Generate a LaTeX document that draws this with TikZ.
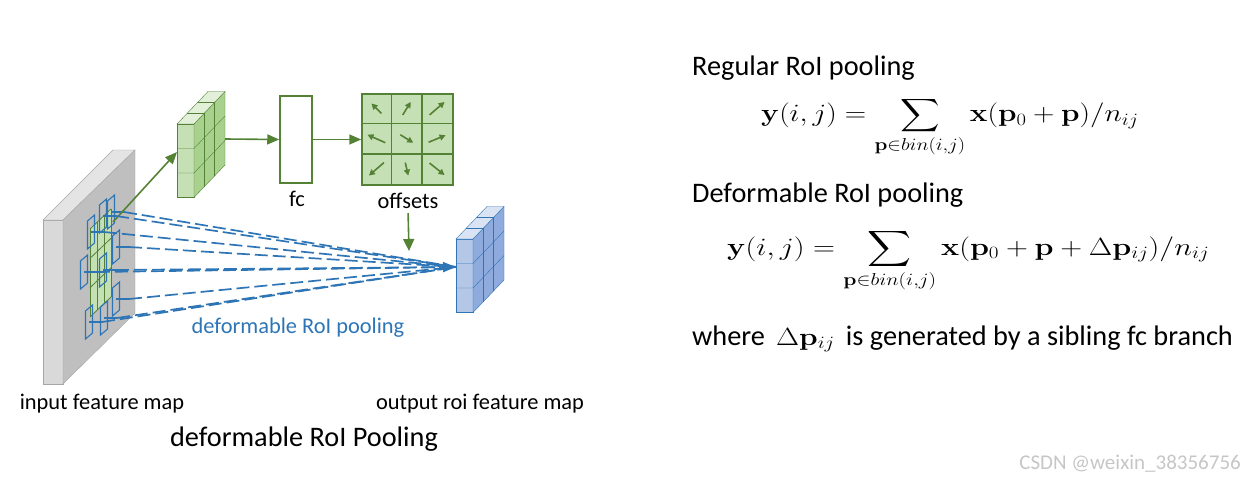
\documentclass[tikz,border=0pt]{standalone}
\usepackage[no-math]{fontspec}
\setmainfont{Carlito}
\usepackage{amsmath,amssymb}
\usepackage{graphicx}
\usetikzlibrary{arrows.meta,calc}
\definecolor{gline}{HTML}{548235}
\definecolor{gfront}{HTML}{C5E0B4}
\definecolor{gside}{HTML}{A9D18E}
\definecolor{gtop}{HTML}{E2F0D9}
\definecolor{bline}{HTML}{2E75B6}
\definecolor{bfront}{HTML}{B4C7E7}
\definecolor{bside}{HTML}{8FAADC}
\definecolor{btop}{HTML}{DAE3F3}
\definecolor{slabfront}{HTML}{BFBFBF}
\definecolor{slabside}{HTML}{D9D9D9}
\definecolor{slabtop}{HTML}{E4E4E4}
\definecolor{slabedge}{HTML}{A6A6A6}

% 1 x 3 x 3 feature cube: #1,#2 front top-left, #3 colour prefix, #4 name
\newcommand{\featcube}[4]{%
  \begin{scope}[shift={(#1,#2)}]
    \filldraw[draw=#3line, fill=#3front] (0,0) rectangle (17,73.5);
    \filldraw[draw=#3line, fill=#3side] (17,0) -- (48,-32.5) -- (48,41) -- (17,73.5) -- cycle;
    \filldraw[draw=#3line, fill=#3top] (0,0) -- (31,-32.5) -- (48,-32.5) -- (17,0) -- cycle;
    \foreach \r in {1,2} \draw[#3line] (0,\r*24.5) -- (17,\r*24.5) -- ++(31,-32.5);
    \foreach \k in {1,2} {
      \draw[#3line] (17+\k*10.33,-\k*10.83) -- ++(0,73.5);
      \draw[#3line] (\k*10.33,-\k*10.83) -- ++(17,0);
    }
    \coordinate (#4-w) at (0,28);
    \coordinate (#4-e) at (48,15);
  \end{scope}}

% one deformed bin on the input map: centre #1,#2, sample point #3
\newcommand{\roibin}[3]{%
  \draw[binbox] (#1-3.5,#2-11) -- (#1+3.5,#2-17) -- (#1+3.5,#2+11) -- (#1-3.5,#2+17) -- cycle;
  \coordinate (#3) at (#1+13,#2);
  \draw[binbox] (#1,#2) -- (#3);}

\begin{document}
\begin{tikzpicture}[x=1pt, y=-1pt,
    lbl/.style={font=\fontsize{22.4}{26}\selectfont, inner sep=0pt},
    hdr/.style={font=\fontsize{28.3}{33}\selectfont, inner sep=0pt, anchor=base west},
    eqn/.style={inner sep=0pt, anchor=base west},
    garrow/.style={draw=gline, line width=1.6pt, -{Triangle[length=12pt,width=10pt]}},
    oarrow/.style={draw=gline, line width=1.6pt, -{Triangle[length=6pt,width=6pt]}},
    binbox/.style={draw=bline, line width=1.1pt},
    pool/.style={draw=bline, line width=1.7pt, dash pattern=on 13pt off 5pt}]
  \useasboundingbox (0,0) rectangle (1258,484);

  % input feature map
  \filldraw[fill=slabside, draw=slabedge] (43,220) rectangle (63,384);
  \filldraw[fill=slabtop, draw=slabedge] (43,220) -- (113,150) -- (135,150) -- (63,220) -- cycle;
  \filldraw[fill=slabfront, draw=slabedge] (63,220) -- (135,150) -- (135,313) -- (63,384) -- cycle;

  % RoI on the map
  \begin{scope}[shift={(90,229)}, x={(7pt,6.67pt)}, y={(0pt,-29.33pt)}]
    \fill[gfront] (0,0) -- (3,0) -- (3,3) -- (0,3) -- cycle;
    \foreach \i in {0,...,3} {
      \draw[gline, line width=0.8pt] (\i,0) -- (\i,3);
      \draw[gline, line width=0.8pt] (0,\i) -- (3,\i);
    }
  \end{scope}
  \coordinate (roitr) at (113,222);

  % deformed bins
  \foreach \bx/\by [count=\n] in {91/232, 103/216, 111/212, 116/247, 84/272, 103/270, 116/299, 89/322, 104/318}
    \roibin{\bx}{\by}{s\n};

  % cubes
  \featcube{177}{124}{g}{gcube}
  \featcube{456}{239}{b}{ocube}

  % fc and offsets
  \node[draw=gline, line width=1.5pt, fill=white, minimum width=32pt, minimum height=87pt, inner sep=0pt] (fc) at (296,139.5) {};
  \node[lbl] (fclbl) at (297,199) {fc};
  \node[draw=gline, line width=1.5pt, fill=gfront, minimum size=91pt, inner sep=0pt] (offs) at (407.5,139.5) {};
  \foreach \i in {1,2} {
    \draw[gline, line width=1.5pt] ($(offs.north west)+(\i*30.33,0)$) -- ($(offs.south west)+(\i*30.33,0)$);
    \draw[gline, line width=1.5pt] ($(offs.north west)+(0,\i*30.33)$) -- ($(offs.north east)+(0,\i*30.33)$);
  }
  \foreach \c/\r/\dx/\dy in {0/0/-10/-10, 1/0/8/-13, 2/0/15/-13, 0/1/-18/-8, 1/1/13/8, 2/1/17/-7, 0/2/-15/13, 1/2/3/13, 2/2/15/12}
    \draw[oarrow] ($(offs.north west)+({\c*30.33+15.17-0.5*(\dx)}, {\r*30.33+15.17-0.5*(\dy)})$) -- ++(\dx,\dy);
  \node[lbl] (offlbl) at (408,201) {offsets};
  \coordinate (offtip) at (409,251);

  % green branch
  \draw[garrow] (roitr) -- (gcube-w);
  \draw[garrow] (gcube-e) -- (fc.west);
  \draw[garrow] (fc.east) -- (offs.west);
  \draw[garrow, -{Triangle[length=12pt,width=11pt]}, shorten <=4pt] (offlbl.south) -- (offtip);

  % pooling lines
  \foreach \n in {1,2,3,4,5,7,8,9}
    \draw[pool] (s\n) -- (ocube-w);
  \draw[pool, -{Triangle[length=13pt,width=10pt]}] (s6) -- (ocube-w);

  % labels
  \node[lbl, text=bline] (poollbl) at (298,328) {deformable RoI pooling};
  \node[lbl] (inlbl) at (102,404) {input feature map};
  \node[lbl] (outlbl) at (480,404) {output roi feature map};
  \node[font=\fontsize{28.3}{33}\selectfont, inner sep=0pt] (title) at (304,439) {deformable RoI Pooling};

  % formulas
  \node[hdr] (reg) at (692,76) {Regular RoI pooling};
  \node[eqn, font=\fontsize{23}{28}\selectfont] (eqreg) at (761,122)
    {\scalebox{1.19}[1]{$\displaystyle \mathbf{y}(i,j)=\sum_{\mathbf{p}\in bin(i,j)}\mathbf{x}(\mathbf{p}_0+\mathbf{p})/n_{ij}$}};
  \node[hdr] (dfm) at (692,202) {Deformable RoI pooling};
  \node[eqn, font=\fontsize{25}{30}\selectfont] (eqdfm) at (727,255)
    {\scalebox{1.22}[1]{$\displaystyle \mathbf{y}(i,j)=\sum_{\mathbf{p}\in bin(i,j)}\mathbf{x}(\mathbf{p}_0+\mathbf{p}+\Delta\mathbf{p}_{ij})/n_{ij}$}};
  \node[hdr] (note) at (692,345) {where \,{\fontsize{24}{29}\selectfont\scalebox{1.2}[1]{$\Delta\mathbf{p}_{ij}$}}\, is generated by a sibling fc branch};

  \node[font=\fontsize{21}{25}\selectfont, text=gray!45, anchor=east, inner sep=0pt] (mark) at (1241,464) {CSDN @weixin\_38356756};
\end{tikzpicture}
\end{document}
